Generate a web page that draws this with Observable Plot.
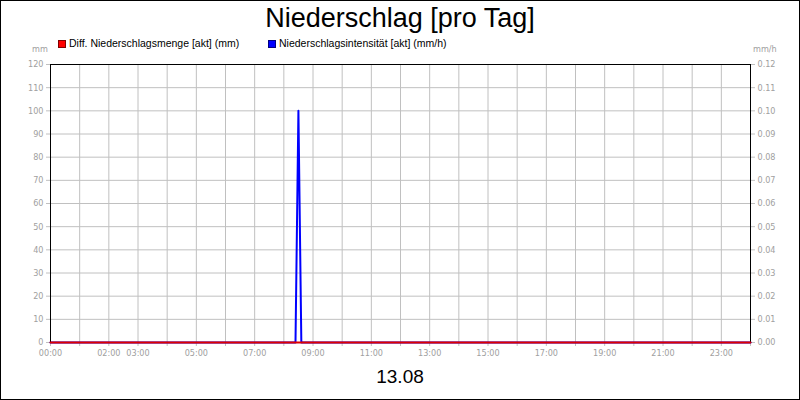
<!DOCTYPE html>
<html>
<head>
<meta charset="utf-8">
<script src="https://cdn.jsdelivr.net/npm/d3@7"></script>
<script src="https://cdn.jsdelivr.net/npm/@observablehq/plot@0.6"></script>
<style>
  body { margin: 0; background: #fff; }
  #wrap { position: relative; width: 800px; height: 400px; overflow: hidden; font-family: "Liberation Sans", Arial, sans-serif; background: #fff; }
  #wrap svg { position: absolute; left: 0; top: 0; }
  #border { position: absolute; left: 0; top: 0; width: 800px; height: 400px; box-sizing: border-box; border: 1px solid #000; pointer-events: none; }
  .t { position: absolute; line-height: 1; white-space: nowrap; }
  #title { left: 0; width: 800px; text-align: center; top: 5px; font-size: 27px; color: #000; }
  #date { left: 0; width: 800px; text-align: center; top: 367px; font-size: 19px; color: #000; }
  .leg { top: 38px; font-size: 10.5px; color: #000; }
  .sw { position: absolute; top: 40px; width: 6px; height: 6px; border: 1px solid; }
  .unit { top: 45px; font-size: 9px; color: #a0a0a0; font-family: "Liberation Sans Narrow", "DejaVu Sans Condensed", "Liberation Sans", sans-serif; }
</style>
</head>
<body>
<div id="wrap">
  <div id="title" class="t"></div>
  <div class="sw" style="left:58px;background:#ff0000;border-color:#800000"></div>
  <div class="t leg" id="leg1" style="left:69px"></div>
  <div class="sw" style="left:268px;background:#0000ff;border-color:#000080"></div>
  <div class="t leg" id="leg2" style="left:279px"></div>
  <div class="t unit" id="unitL" style="left:32px"></div>
  <div class="t unit" id="unitR" style="left:753px"></div>
  <div id="date" class="t"></div>
  <div id="border"></div>
</div>
<script>
// ---- data ----
const titleText = "Niederschlag [pro Tag]";
const dateText = "13.08";
const seriesNames = ["Diff. Niederschlagsmenge [akt] (mm)", "Niederschlagsintensität [akt] (mm/h)"];
const unitLeft = "mm";
const unitRight = "mm/h";

// x tick labels shown under the axis (hourly ticks, only these labelled)
const xLabels = ["00:00","02:00","03:00","05:00","07:00","09:00","11:00","13:00","15:00","17:00","19:00","21:00","23:00"];
const xTickHours = [0,1,2,3,4,5,6,7,8,9,10,11,12,13,14,15,16,17,18,19,20,21,22,23,24];
const yLeftTicks = [0,10,20,30,40,50,60,70,80,90,100,110,120];     // mm
const yRightTicks = [0,0.01,0.02,0.03,0.04,0.05,0.06,0.07,0.08,0.09,0.10,0.11,0.12]; // mm/h

// Diff. Niederschlagsmenge (mm)
const diffTimes = ["00:00","24:00"];
const diffValues = [0, 0];
// Niederschlagsintensität (mm/h)
const intensityTimes = ["00:00","08:24","08:30","08:36","24:00"];
const intensityValues = [0, 0, 0.10, 0, 0];

// ---- build ----
const toH = s => +s.slice(0,2) + (+s.slice(3,5))/60;
const fmtH = h => String(Math.floor(h)).padStart(2,"0") + ":00";
const diff = diffTimes.map((t,i) => ({x: toH(t), y: diffValues[i]}));
const intensity = intensityTimes.map((t,i) => ({x: toH(t), y: intensityValues[i]}));
const rightScale = 1000; // 0.12 mm/h  <->  120 mm

document.getElementById("title").textContent = titleText;
document.getElementById("date").textContent = dateText;
document.getElementById("leg1").textContent = seriesNames[0];
document.getElementById("leg2").textContent = seriesNames[1];
document.getElementById("unitL").textContent = unitLeft;
document.getElementById("unitR").textContent = unitRight;

const grid = "#c0c0c0";
const lab = "#a0a0a0";
const tickFont = {fontFamily: "'Liberation Sans Narrow','DejaVu Sans Condensed','Liberation Sans',sans-serif", fontSize: 9};

const chart = Plot.plot({
  width: 800,
  height: 400,
  marginTop: 64,
  marginBottom: 58,
  marginLeft: 50,
  marginRight: 50,
  style: {background: "transparent", fontFamily: tickFont.fontFamily, fontSize: "9px", overflow: "visible"},
  x: {type: "linear", domain: [0, 24]},
  y: {domain: [0, 120]},
  marks: [
    Plot.gridX(xTickHours.slice(1, -1), {stroke: grid, strokeOpacity: 1}),
    Plot.gridY(yLeftTicks.slice(1, -1), {stroke: grid, strokeOpacity: 1}),
    Plot.axisX(xTickHours, {anchor: "bottom", tickSize: 4, tickPadding: 3, stroke: grid, fill: lab, label: null,
      tickFormat: h => xLabels.includes(fmtH(h)) ? fmtH(h) : ""}),
    Plot.axisY(yLeftTicks, {anchor: "left", tickSize: 4, tickPadding: 3, stroke: grid, fill: lab, label: null}),
    Plot.axisY(yRightTicks.map(v => v * rightScale), {anchor: "right", tickSize: 4, tickPadding: 3, stroke: grid, fill: lab, label: null,
      tickFormat: v => (v / rightScale).toFixed(2)}),
    Plot.line(intensity, {x: "x", y: d => d.y * rightScale, stroke: "#0000ff", strokeWidth: 2}),
    Plot.frame({stroke: "#000", strokeWidth: 1}),
    Plot.line(diff, {x: "x", y: "y", stroke: "#dd0000", strokeWidth: 2})
  ]
});
document.getElementById("wrap").insertBefore(chart, document.getElementById("title"));
</script>
</body>
</html>
